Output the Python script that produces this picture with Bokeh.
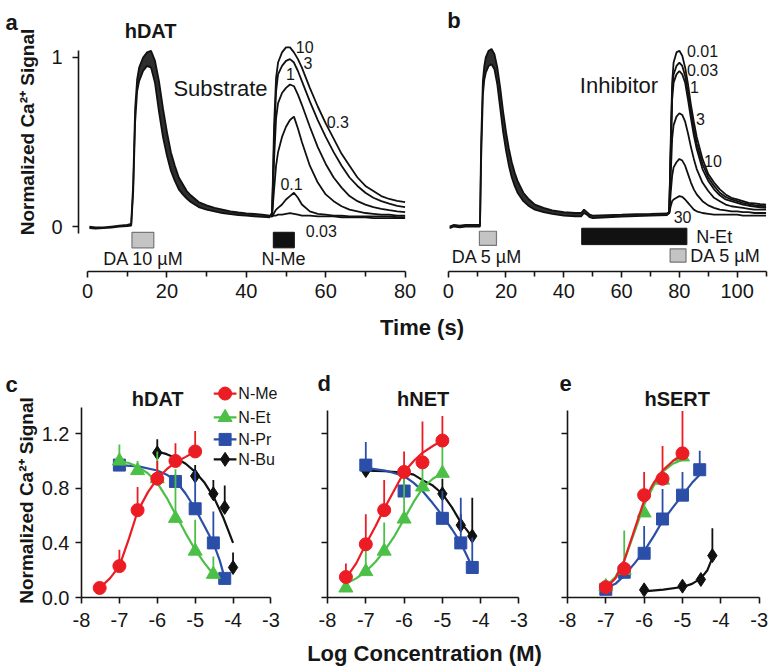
from bokeh.plotting import figure
from bokeh.models import (Range1d, FixedTicker, Label, PrintfTickFormatter, CustomJSTickFormatter)
from bokeh.layouts import row, column
from bokeh.embed import file_html
from bokeh.resources import INLINE

# ---------------- data ----------------
# Panel a: hDAT, DA 10 uM responses (upper / lower envelope of overlapping traces)
a_da_t = [0.5, 2, 4, 6, 8, 10, 11, 11.5, 12, 12.5, 13, 14, 15, 16, 17, 18, 19, 20, 21, 22, 23, 24,
          25, 26, 28, 30, 32, 34, 36, 38, 40, 42, 44, 46]
a_da_hi = [0.0, -0.005, -0.005, 0.0, 0.005, 0.01, 0.015, 0.25, 0.7, 0.87, 0.94, 1.0, 1.03, 1.04, 0.98,
           0.86, 0.7, 0.56, 0.44, 0.36, 0.29, 0.25, 0.21, 0.185, 0.145, 0.125, 0.11, 0.1, 0.09, 0.083,
           0.078, 0.074, 0.07, 0.065]
a_da_lo = [-0.01, -0.012, -0.01, -0.006, 0.0, 0.003, 0.005, 0.2, 0.62, 0.8, 0.86, 0.92, 0.95, 0.94, 0.85,
           0.68, 0.53, 0.42, 0.33, 0.27, 0.22, 0.19, 0.165, 0.145, 0.115, 0.1, 0.09, 0.08, 0.074, 0.068,
           0.064, 0.06, 0.057, 0.055]
# Panel a: N-Me responses (uM)
a_nme_t = [46, 46.5, 47, 47.5, 48, 49, 50, 51, 52, 53, 54, 56, 58, 60, 62, 64, 66, 68, 70, 72, 74, 76, 78, 80]
a_nme_10 = [0.06, 0.08, 0.6, 0.88, 0.97, 1.03, 1.06, 1.06, 1.03, 0.99, 0.94, 0.82, 0.71, 0.61, 0.52, 0.43,
            0.36, 0.29, 0.24, 0.21, 0.18, 0.163, 0.152, 0.145]
a_nme_3 = [0.06, 0.08, 0.5, 0.8, 0.9, 0.95, 0.98, 0.99, 0.97, 0.92, 0.86, 0.74, 0.63, 0.53, 0.44, 0.36,
           0.29, 0.24, 0.2, 0.17, 0.15, 0.135, 0.122, 0.115]
a_nme_1 = [0.06, 0.08, 0.4, 0.64, 0.73, 0.79, 0.82, 0.84, 0.83, 0.78, 0.72, 0.59, 0.47, 0.37, 0.29, 0.23,
           0.18, 0.15, 0.13, 0.115, 0.105, 0.097, 0.09, 0.085]
a_nme_03 = [0.06, 0.07, 0.22, 0.36, 0.44, 0.53, 0.59, 0.63, 0.65, 0.58, 0.5, 0.36, 0.26, 0.19, 0.15, 0.12,
            0.1, 0.09, 0.08, 0.075, 0.07, 0.07, 0.065, 0.065]
a_nme_01 = [0.06, 0.06, 0.08, 0.1, 0.11, 0.13, 0.16, 0.18, 0.2, 0.17, 0.13, 0.09, 0.075, 0.07, 0.065, 0.065,
            0.06, 0.06, 0.06, 0.06, 0.06, 0.06, 0.055, 0.055]
a_nme_003 = [0.06, 0.06, 0.065, 0.065, 0.07, 0.07, 0.075, 0.08, 0.075, 0.07, 0.065, 0.065, 0.06, 0.06, 0.06,
             0.055, 0.055, 0.055, 0.055, 0.05, 0.05, 0.05, 0.05, 0.05]
a_stim_left = [11.2, 46.8]
a_stim_right = [16.7, 52.1]

# Panel b: DA 5 uM responses, then N-Et pre-incubation
b_da_t = [0.5, 2, 4, 6, 8, 10, 11, 11.4, 12, 12.5, 13, 14, 15, 16, 17, 18, 19, 20, 21, 22, 23, 24, 26, 28,
          30, 33, 36, 40, 44, 46, 47, 48, 49, 50, 55, 60, 65, 70, 76]
b_da_hi = [0.0, 0.01, 0.005, 0.01, 0.01, 0.01, 0.01, 0.5, 0.86, 0.95, 1.0, 1.04, 1.05, 1.02, 0.94, 0.82,
           0.68, 0.56, 0.46, 0.38, 0.32, 0.27, 0.2, 0.16, 0.13, 0.11, 0.095, 0.085, 0.08, 0.08, 0.1, 0.085,
           0.07, 0.065, 0.068, 0.07, 0.073, 0.075, 0.078]
b_da_lo = [-0.01, 0.0, -0.005, 0.0, 0.0, 0.0, 0.0, 0.4, 0.78, 0.87, 0.91, 0.95, 0.96, 0.93, 0.84, 0.7,
           0.56, 0.45, 0.36, 0.29, 0.24, 0.2, 0.15, 0.12, 0.1, 0.085, 0.075, 0.065, 0.06, 0.06, 0.08, 0.07,
           0.055, 0.05, 0.055, 0.058, 0.062, 0.065, 0.068]
b_net_t = [76, 76.5, 77, 77.5, 78, 79, 80, 81, 82, 83, 84, 85, 86, 88, 90, 92, 94, 96, 98, 100, 102, 104,
           106, 108, 110]
b_net_001 = [0.075, 0.09, 0.5, 0.85, 0.97, 1.03, 1.04, 1.01, 0.94, 0.84, 0.72, 0.62, 0.53, 0.4, 0.31, 0.26,
             0.22, 0.19, 0.17, 0.16, 0.15, 0.14, 0.137, 0.133, 0.13]
b_net_003 = [0.075, 0.09, 0.45, 0.8, 0.9, 0.95, 0.97, 0.95, 0.89, 0.79, 0.68, 0.58, 0.49, 0.37, 0.29, 0.24,
             0.2, 0.175, 0.16, 0.15, 0.14, 0.132, 0.127, 0.123, 0.12]
b_net_1 = [0.075, 0.09, 0.42, 0.75, 0.85, 0.9, 0.92, 0.9, 0.85, 0.75, 0.64, 0.54, 0.46, 0.34, 0.27, 0.22,
           0.185, 0.16, 0.15, 0.14, 0.13, 0.123, 0.118, 0.114, 0.11]
b_net_3 = [0.075, 0.08, 0.3, 0.52, 0.6, 0.65, 0.67, 0.66, 0.62, 0.55, 0.47, 0.4, 0.34, 0.26, 0.21, 0.17,
           0.15, 0.13, 0.12, 0.115, 0.11, 0.105, 0.1, 0.1, 0.1]
b_net_10 = [0.075, 0.08, 0.2, 0.3, 0.35, 0.38, 0.4, 0.39, 0.36, 0.31, 0.26, 0.22, 0.19, 0.15, 0.125, 0.11,
            0.1, 0.095, 0.09, 0.09, 0.085, 0.085, 0.08, 0.08, 0.08]
b_net_30 = [0.075, 0.08, 0.12, 0.15, 0.16, 0.17, 0.18, 0.175, 0.16, 0.14, 0.12, 0.1, 0.09, 0.08, 0.075, 0.07,
            0.07, 0.07, 0.07, 0.07, 0.065, 0.065, 0.065, 0.065, 0.065]
b_stim_gray_left = [10.8, 76.8]
b_stim_gray_right = [16.7, 82.3]
b_stim_gray_bottom = [-0.112, -0.211]
b_stim_gray_top = [-0.028, -0.132]
b_stim_net = [46.2, 82.6]

# Dose-response panels (log M, normalized signal, SEM upward)
log_ticks = [-8, -7, -6, -5, -4, -3]
norm_ticks = [0.0, 0.4, 0.8, 1.2]
series_names = ["N-Me", "N-Et", "N-Pr", "N-Bu"]

c_me_x = [-7.52, -7, -6.52, -6, -5.52, -5]
c_me_y = [0.07, 0.23, 0.64, 0.87, 1.0, 1.07]
c_me_e = [0.04, 0.12, 0.17, 0.13, 0.13, 0.15]
c_et_x = [-7, -6.52, -6, -5.52, -5, -4.52]
c_et_y = [1.0, 0.93, 0.87, 0.58, 0.34, 0.17]
c_et_e = [0.12, 0.07, 0.2, 0.36, 0.23, 0.13]
c_pr_x = [-7, -5.52, -5, -4.52, -4.22]
c_pr_y = [0.97, 0.85, 0.65, 0.4, 0.14]
c_pr_e = [0.0, 0.05, 0.28, 0.23, 0.0]
c_bu_x = [-6, -5, -4.52, -4.22, -4]
c_bu_y = [1.06, 0.89, 0.76, 0.66, 0.22]
c_bu_e = [0.1, 0.08, 0.1, 0.16, 0.11]
c_me_fx = [-7.52, -7.25, -7, -6.75, -6.52, -6.25, -6, -5.75, -5.52, -5.25, -5]
c_me_fy = [0.07, 0.14, 0.23, 0.43, 0.63, 0.77, 0.87, 0.94, 0.99, 1.03, 1.07]
c_et_fx = [-7, -6.75, -6.5, -6.25, -6, -5.75, -5.5, -5.25, -5, -4.75, -4.52]
c_et_fy = [1.0, 0.985, 0.955, 0.91, 0.84, 0.73, 0.6, 0.47, 0.35, 0.25, 0.17]
c_pr_fx = [-7, -6.5, -6, -5.75, -5.5, -5.25, -5, -4.75, -4.52, -4.35, -4.22]
c_pr_fy = [0.97, 0.96, 0.93, 0.9, 0.85, 0.76, 0.65, 0.52, 0.4, 0.27, 0.14]
c_bu_fx = [-6, -5.75, -5.5, -5.25, -5, -4.75, -4.5, -4.25, -4]
c_bu_fy = [1.07, 1.05, 1.02, 0.98, 0.92, 0.84, 0.73, 0.58, 0.4]

d_me_x = [-7.52, -7, -6.52, -6, -5.52, -5]
d_me_y = [0.15, 0.39, 0.64, 0.92, 0.99, 1.15]
d_me_e = [0.1, 0.22, 0.22, 0.15, 0.3, 0.18]
d_et_x = [-7.52, -7, -6.52, -6, -5.52, -5]
d_et_y = [0.07, 0.19, 0.34, 0.575, 0.81, 0.91]
d_et_e = [0.0, 0.18, 0.21, 0.32, 0.2, 0.22]
d_pr_x = [-7, -6, -5, -4.52, -4.22]
d_pr_y = [0.97, 0.78, 0.58, 0.4, 0.22]
d_pr_e = [0.17, 0.1, 0.2, 0.33, 0.22]
d_bu_x = [-7, -6, -5, -4.52, -4.22]
d_bu_y = [0.93, 0.92, 0.76, 0.53, 0.45]
d_bu_e = [0.0, 0.0, 0.11, 0.08, 0.28]
d_me_fx = [-7.52, -7.25, -7, -6.75, -6.52, -6.25, -6, -5.75, -5.52, -5.25, -5]
d_me_fy = [0.14, 0.25, 0.39, 0.52, 0.65, 0.79, 0.92, 1.0, 1.06, 1.11, 1.15]
d_et_fx = [-7.52, -7.25, -7, -6.75, -6.52, -6.25, -6, -5.75, -5.52, -5.25, -5]
d_et_fy = [0.1, 0.14, 0.19, 0.26, 0.34, 0.45, 0.575, 0.7, 0.8, 0.87, 0.91]
d_pr_fx = [-7, -6.5, -6, -5.75, -5.52, -5.25, -5, -4.75, -4.52, -4.35, -4.22]
d_pr_fy = [0.95, 0.93, 0.89, 0.84, 0.78, 0.69, 0.6, 0.5, 0.4, 0.3, 0.22]
d_bu_fx = [-7, -6.5, -6, -5.75, -5.52, -5.25, -5, -4.75, -4.52, -4.35, -4.22]
d_bu_fy = [0.93, 0.925, 0.915, 0.9, 0.86, 0.82, 0.76, 0.66, 0.55, 0.49, 0.44]

e_me_x = [-7, -6.52, -6, -5.52, -5]
e_me_y = [0.076, 0.21, 0.75, 0.87, 1.056]
e_me_e = [0.0, 0.0, 0.17, 0.24, 0.31]
e_et_x = [-7, -6.52, -6, -5.52, -5]
e_et_y = [0.08, 0.2, 0.62, 0.86, 1.03]
e_et_e = [0.0, 0.29, 0.0, 0.0, 0.0]
e_pr_x = [-7, -6.52, -6, -5.52, -5, -4.55]
e_pr_y = [0.06, 0.185, 0.324, 0.575, 0.75, 0.936]
e_pr_e = [0.0, 0.0, 0.2, 0.22, 0.17, 0.14]
e_bu_x = [-6, -5, -4.52, -4.22]
e_bu_y = [0.056, 0.083, 0.132, 0.307]
e_bu_e = [0.03, 0.0, 0.04, 0.2]
e_me_fx = [-7, -6.75, -6.52, -6.25, -6, -5.75, -5.52, -5.25, -5]
e_me_fy = [0.07, 0.14, 0.27, 0.5, 0.71, 0.84, 0.93, 1.0, 1.05]
e_et_fx = [-7, -6.75, -6.52, -6.25, -6, -5.75, -5.52, -5.25, -5, -4.9]
e_et_fy = [0.08, 0.15, 0.27, 0.48, 0.68, 0.82, 0.92, 0.98, 1.01, 1.01]
e_pr_fx = [-7, -6.75, -6.52, -6.25, -6, -5.75, -5.52, -5.25, -5, -4.75, -4.55]
e_pr_fy = [0.07, 0.1, 0.16, 0.25, 0.34, 0.45, 0.56, 0.66, 0.75, 0.84, 0.9]
e_bu_fx = [-6, -5.5, -5, -4.75, -4.52, -4.35, -4.22]
e_bu_fy = [0.045, 0.058, 0.077, 0.1, 0.14, 0.2, 0.29]

# ---------------- style / layout ----------------
FONT = "Liberation Sans"
INK = "#161616"
TICK = 20
RED, GREEN, BLUE, BLACK = "#ec1c24", "#4cc046", "#2b4ea8", "#111111"
YLAB = "Normalized Ca\u00b2\u207a Signal"


def base_fig(w, h, left, right, top, bottom, xr, yr, axes=True, yloc=None):
    kw = {}
    if not axes:
        kw = dict(x_axis_location=None, y_axis_location=yloc)
    p = figure(width=w, height=h, x_range=Range1d(*xr), y_range=Range1d(*yr),
               output_backend="svg", toolbar_location=None, title=None,
               min_border_left=left, min_border_right=right,
               min_border_top=top, min_border_bottom=bottom, **kw)
    p.outline_line_color = None
    p.grid.visible = False
    return p


def style_axis(ax, ticks, minor=(), bounds=None, standoff=6):
    ax.ticker = FixedTicker(ticks=list(ticks), minor_ticks=list(minor))
    if bounds is not None:
        ax.bounds = bounds
    ax.axis_line_color = INK
    ax.axis_line_width = 1.6
    ax.major_tick_line_color = INK
    ax.major_tick_line_width = 1.6
    ax.minor_tick_line_color = INK
    ax.minor_tick_line_width = 1.6
    ax.major_tick_in = 0
    ax.major_tick_out = 6
    ax.minor_tick_in = 0
    ax.minor_tick_out = 5 if minor else 0
    ax.major_label_standoff = standoff
    ax.major_label_text_font = FONT
    ax.major_label_text_font_size = f"{TICK}px"
    ax.major_label_text_color = INK


def txt(p, x, y, text, size, bold=False, align="center", baseline="middle", angle=0.0):
    p.add_layout(Label(x=x, y=y, text=text, text_font=FONT, text_font_size=f"{size}px",
                       text_font_style="bold" if bold else "normal", text_align=align,
                       text_baseline=baseline, text_color=INK, angle=angle))


def ytitle_fig(w, h, top, bottom, standoff):
    """Narrow strip whose (invisible) left axis carries the rotated y title, centred on its frame."""
    p = base_fig(w, h, w - 1, 0, top, bottom, (0, 1), (0, 1), axes=False, yloc="left")
    ax = p.yaxis[0]
    ax.ticker = FixedTicker(ticks=[])
    ax.axis_line_color = None
    ax.major_tick_line_color = None
    ax.minor_tick_line_color = None
    ax.axis_label = YLAB
    ax.axis_label_standoff = standoff
    ax.axis_label_text_font = FONT
    ax.axis_label_text_font_size = "19px"
    ax.axis_label_text_font_style = "bold"
    ax.axis_label_text_color = INK
    return p


def stack(*figs):
    # each figure wrapped in its own row so that the column does not align their frames
    return column(*[row(f) for f in figs])


# ---------- top row ----------
la_top = base_fig(45, 30, 0, 0, 0, 0, (0, 45), (0, 30), axes=False)
txt(la_top, 5, 8, "a", 22, bold=True, align="left", baseline="alphabetic")
la_ax = ytitle_fig(45, 278, 0, 75, 7)
la = stack(la_top, la_ax)

pa = base_fig(380, 308, 33, 10, 0, 37, (-2.27, 82.62), (-0.266, 1.337))
style_axis(pa.xaxis[0], [0, 20, 40, 60, 80], [10, 30, 50, 70], bounds=(0, 80), standoff=6)
style_axis(pa.yaxis[0], [0, 1], bounds=(-0.04, 1.04), standoff=10)
pa.varea(x=a_da_t, y1=a_da_lo, y2=a_da_hi, fill_color=BLACK, fill_alpha=0.88)
pa.line(a_da_t, a_da_hi, line_color=BLACK, line_width=1.8)
pa.line(a_da_t, a_da_lo, line_color=BLACK, line_width=1.8)
for ys in [a_nme_003, a_nme_01, a_nme_03, a_nme_1, a_nme_3, a_nme_10]:
    pa.line(a_nme_t, ys, line_color=BLACK, line_width=1.8)
pa.quad(left=a_stim_left[:1], right=a_stim_right[:1], bottom=[-0.126], top=[-0.034],
        fill_color="#c4c4c4", line_color="#777777", line_width=1.2)
pa.quad(left=a_stim_left[1:], right=a_stim_right[1:], bottom=[-0.126], top=[-0.034],
        fill_color=BLACK, line_color=BLACK)
txt(pa, 15.9, 1.154, "hDAT", 20, bold=True)
txt(pa, 33.5, 0.815, "Substrate", 22)
txt(pa, 14.1, -0.19, "DA 10 \u00b5M", 18)
txt(pa, 49.4, -0.19, "N-Me", 18)
for (tx, ty, lab) in [(54.7, 1.061, "10"), (55.5, 0.968, "3"), (51.1, 0.903, "1"),
                      (63.05, 0.617, "0.3"), (51.4, 0.249, "0.1"), (58.9, -0.024, "0.03")]:
    txt(pa, tx, ty, lab, 16)

pb = base_fig(344, 308, 18, 2, 0, 37, (-1.63, 110.5), (-0.266, 1.337))
style_axis(pb.xaxis[0], [0, 20, 40, 60, 80, 100], [10, 30, 50, 70, 90, 110], bounds=(0, 110), standoff=6)
pb.yaxis.visible = False
pb.varea(x=b_da_t, y1=b_da_lo, y2=b_da_hi, fill_color=BLACK, fill_alpha=0.88)
pb.line(b_da_t, b_da_hi, line_color=BLACK, line_width=1.8)
pb.line(b_da_t, b_da_lo, line_color=BLACK, line_width=1.8)
for ys in [b_net_30, b_net_10, b_net_3, b_net_1, b_net_003, b_net_001]:
    pb.line(b_net_t, ys, line_color=BLACK, line_width=1.8)
pb.quad(left=b_stim_gray_left, right=b_stim_gray_right, bottom=b_stim_gray_bottom, top=b_stim_gray_top,
        fill_color="#c4c4c4", line_color="#777777", line_width=1.2)
pb.quad(left=b_stim_net[:1], right=b_stim_net[1:], bottom=[-0.107], top=[-0.01],
        fill_color=BLACK, line_color=BLACK)
txt(pb, -0.35, 1.219, "b", 22, bold=True, align="left", baseline="alphabetic")
txt(pb, 59.1, 0.834, "Inhibitor", 22)
txt(pb, 13.4, -0.18, "DA 5 \u00b5M", 18)
txt(pb, 85.8, -0.059, "N-Et", 18, align="left")
txt(pb, 83.8, -0.172, "DA 5 \u00b5M", 18, align="left")
for (tx, ty, lab) in [(88.0, 1.04, "0.01"), (88.0, 0.927, "0.03"), (85.2, 0.828, "1"),
                      (87.3, 0.637, "3"), (91.6, 0.385, "10"), (81.1, 0.055, "30")]:
    txt(pb, tx, ty, lab, 16)

# ---------- time label band ----------
pt = base_fig(769, 37, 0, 0, 0, 0, (0, 769), (0, 37), axes=False)
txt(pt, 421.5, 18, "Time (s)", 22, bold=True)


# ---------- dose-response panels ----------
def dr_fig(w, h, left, top_val, xr, show_labels):
    p = base_fig(w, h, left, 5, 0, 43, xr, (0, top_val))
    style_axis(p.xaxis[0], log_ticks, bounds=(-8, -3), standoff=9)
    p.xaxis[0].formatter = PrintfTickFormatter(format="%d")
    style_axis(p.yaxis[0], norm_ticks, bounds=(0, 1.39), standoff=6)
    if show_labels:
        p.yaxis[0].formatter = PrintfTickFormatter(format="%.1f")
    else:
        p.yaxis[0].formatter = CustomJSTickFormatter(code="return ''")
    return p


def dr_series(p, fx, fy, x, y, err, color, marker, size):
    p.line(fx, fy, line_color=color, line_width=2.2)
    tops = [a + b for a, b in zip(y, err)]
    p.segment(x0=x, y0=y, x1=x, y1=tops, line_color=color, line_width=1.8)
    p.scatter(x, y, marker=marker, size=size, fill_color=color, line_color=color)


lc_top = base_fig(38, 48, 0, 0, 0, 0, (0, 38), (0, 48), axes=False)
txt(lc_top, 5, 9, "c", 22, bold=True, align="left", baseline="alphabetic")
lc_ax = ytitle_fig(38, 247, 0, 33, 1)
lc = stack(lc_top, lc_ax)

pc = dr_fig(252, 295, 40, 1.846, (-8, -2.616), True)
dr_series(pc, c_bu_fx, c_bu_fy, c_bu_x, c_bu_y, c_bu_e, BLACK, "diamond", 14)
dr_series(pc, c_pr_fx, c_pr_fy, c_pr_x, c_pr_y, c_pr_e, BLUE, "square", 12)
dr_series(pc, c_et_fx, c_et_fy, c_et_x, c_et_y, c_et_e, GREEN, "triangle", 14)
dr_series(pc, c_me_fx, c_me_fy, c_me_x, c_me_y, c_me_e, RED, "circle", 13)
txt(pc, -5.99, 1.456, "hDAT", 20, bold=True)
# legend (key drawn in the panel, upper right)
leg_rows = [1.494, 1.319, 1.158, 1.012]
for (nm, col, mk, sz), yy in zip([("N-Me", RED, "circle", 13), ("N-Et", GREEN, "triangle", 14),
                                  ("N-Pr", BLUE, "square", 12), ("N-Bu", BLACK, "diamond", 14)], leg_rows):
    pc.line([-4.51, -3.91], [yy, yy], line_color=col, line_width=2.2)
    pc.scatter([-4.21], [yy], marker=mk, size=sz, fill_color=col, line_color=col)
    txt(pc, -3.86, yy, nm, 16, align="left")

hd = base_fig(240, 65, 0, 0, 0, 0, (0, 240), (0, 65), axes=False)
txt(hd, 27, 27, "d", 22, bold=True, align="left", baseline="alphabetic")
txt(hd, 132.7, 12, "hNET", 20, bold=True)
pd_ = dr_fig(240, 230, 37, 1.370, (-8, -2.83), False)
dr_series(pd_, d_bu_fx, d_bu_fy, d_bu_x, d_bu_y, d_bu_e, BLACK, "diamond", 14)
dr_series(pd_, d_pr_fx, d_pr_fy, d_pr_x, d_pr_y, d_pr_e, BLUE, "square", 12)
dr_series(pd_, d_et_fx, d_et_fy, d_et_x, d_et_y, d_et_e, GREEN, "triangle", 14)
dr_series(pd_, d_me_fx, d_me_fy, d_me_x, d_me_y, d_me_e, RED, "circle", 13)

he = base_fig(239, 65, 0, 0, 0, 0, (0, 239), (0, 65), axes=False)
txt(he, 29, 27, "e", 22, bold=True, align="left", baseline="alphabetic")
txt(he, 146.7, 12, "hSERT", 20, bold=True)
pe = dr_fig(239, 230, 37, 1.370, (-8, -2.86), False)
dr_series(pe, e_bu_fx, e_bu_fy, e_bu_x, e_bu_y, e_bu_e, BLACK, "diamond", 14)
dr_series(pe, e_pr_fx, e_pr_fy, e_pr_x, e_pr_y, e_pr_e, BLUE, "square", 12)
dr_series(pe, e_et_fx, e_et_fy, e_et_x, e_et_y, e_et_e, GREEN, "triangle", 14)
dr_series(pe, e_me_fx, e_me_fy, e_me_x, e_me_y, e_me_e, RED, "circle", 13)

pl = base_fig(769, 27, 0, 0, 0, 0, (0, 769), (0, 27), axes=False)
txt(pl, 424, 14, "Log Concentration (M)", 22, bold=True)

layout = column(row(la, pa, pb), row(pt), row(lc, pc, stack(hd, pd_), stack(he, pe)), row(pl))
open("out.html", "w").write(file_html(layout, INLINE))
